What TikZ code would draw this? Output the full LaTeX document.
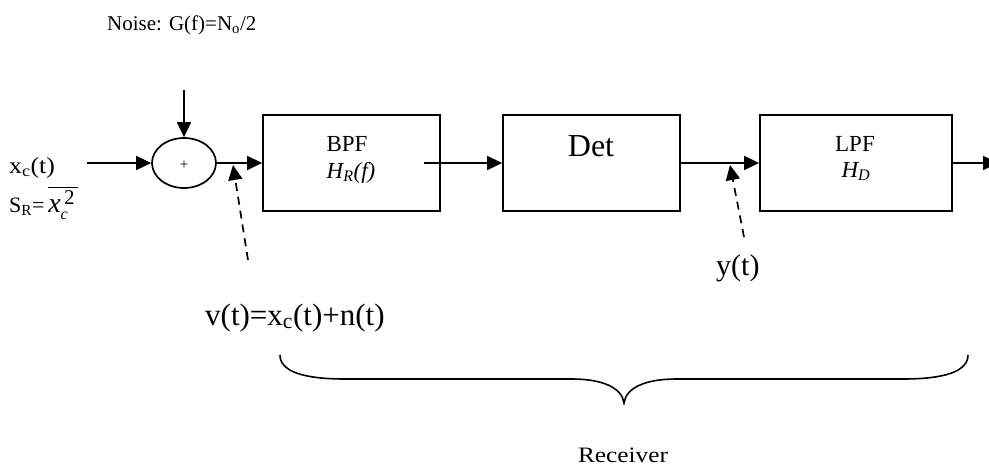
\documentclass[tikz,border=0pt]{standalone}
\usepackage{fontspec}
\setmainfont{Liberation Serif}
\usetikzlibrary{arrows.meta,shapes.geometric}
\tikzset{
  blk/.style={draw, line width=1.8pt, minimum height=96pt, inner sep=0pt},
  arr/.style={line width=1.7pt, -{Triangle[length=15pt,width=14pt]}},
  darr/.style={line width=1.7pt, dash pattern=on 8pt off 6pt, -{Triangle[length=15pt,width=14pt]}},
  txt/.style={inner sep=0pt, anchor=base},
  txtw/.style={inner sep=0pt, anchor=base west},
}
\newcommand{\fs}[1]{\fontsize{#1}{#1}\selectfont}
\begin{document}
\begin{tikzpicture}[x=1pt,y=-1pt]
\useasboundingbox (0,0) rectangle (989,466);
% blocks
\node[blk, minimum width=177pt] (bpf) at (351.5,163) {};
\node[blk, minimum width=177pt] (det) at (591.5,163) {};
\node[blk, minimum width=192pt] (lpf) at (856,163) {};
\node[draw, ellipse, line width=1.7pt, minimum width=64pt, minimum height=50pt, inner sep=0pt] (sum) at (184,163) {};
\node[inner sep=0pt] (plus) at (184,165) {\fs{15}+};
% texts
\node[txtw] (noise) at (107,30) {\fs{21}Noise: G(f)=N\textsubscript{o}/2};
\node[txtw] (xc) at (9,173) {\fs{23}\scalebox{1.12}[1]{x\textsubscript{c}(t)}};
\node[txtw] (sr) at (9,212) {\fs{22}S\textsubscript{R}=\,$\overline{\hbox{\rule{0pt}{23pt}\fs{28}\itshape x\rlap{\raisebox{-7pt}{\fs{16}c}}\raisebox{8pt}{\upshape\fs{21}\,2\,}}}$};
\node[txt] (bpft) at (347,151) {\fs{23}BPF};
\node[txt] (hr) at (351,178) {\fs{23}\itshape H\textsubscript{R}(f)};
\node[txt] (dett) at (591,156) {\fs{32}Det};
\node[txt] (lpft) at (855,151) {\fs{23}LPF};
\node[txt] (hd) at (856,177) {\fs{23}\itshape H\textsubscript{D}};
\node[txtw] (vt) at (205,325) {\fs{31}v(t)=x\textsubscript{c}(t)+n(t)};
\node[txtw] (yt) at (716,275) {\fs{30}y(t)};
\node[txt] (recv) at (623,462) {\fs{22}\scalebox{1.15}[1]{Receiver}};
% coordinates
\coordinate (in) at (87,163);
\coordinate (ntop) at (184,90);
\coordinate (bpfo) at (424,163);
\coordinate (out) at (998,163);
\coordinate (vtail) at (248,260);
\coordinate (vtip) at (233,165);
\coordinate (ytail) at (744,237);
\coordinate (ytip) at (730,165);
% connectors
\draw[arr] (in) -- (sum.west);
\draw[arr] (ntop) -- (sum.north);
\draw[arr] (sum.east) -- (bpf.west);
\draw[arr] (bpfo) -- (det.west);
\draw[arr] (det.east) -- (lpf.west);
\draw[arr] (lpf.east) -- (out);
\draw[darr] (vtail) -- (vtip);
\draw[darr] (ytail) -- (ytip);
% brace
\draw[line width=1.6pt] (280,355) .. controls (280,372) and (305,379) .. (345,379)
  -- (572,379) .. controls (603,379) and (622,388) .. (624,403)
  .. controls (626,388) and (645,379) .. (676,379)
  -- (903,379) .. controls (943,379) and (968,372) .. (968,355);
\end{tikzpicture}
\end{document}
